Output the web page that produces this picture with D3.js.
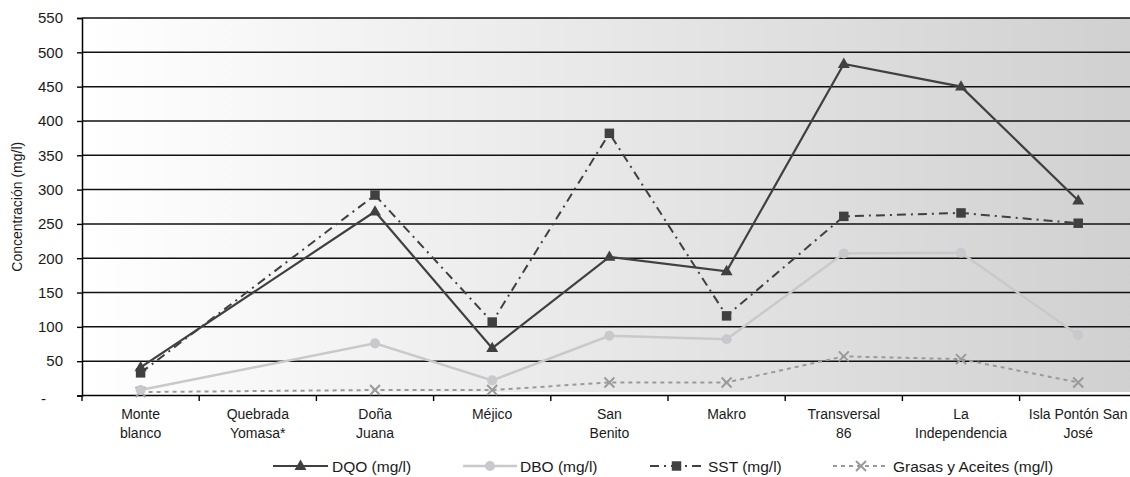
<!DOCTYPE html>
<html>
<head>
<meta charset="utf-8">
<script src="https://cdn.jsdelivr.net/npm/d3@7"></script>
<style>
  html, body { margin: 0; padding: 0; background: #ffffff; }
  svg { display: block; font-family: "Liberation Sans", Arial, sans-serif; }
</style>
</head>
<body>
<svg id="chart" width="1130" height="477"></svg>
<script>
// Sampling sites (two-line labels)
const categories = [
  ["Monte", "blanco"],
  ["Quebrada", "Yomasa*"],
  ["Doña", "Juana"],
  ["Méjico"],
  ["San", "Benito"],
  ["Makro"],
  ["Transversal", "86"],
  ["La", "Independencia"],
  ["Isla Pontón San", "José"]
];

// Concentrations in mg/l; Quebrada Yomasa* has no measurement
const dqo    = [41, null, 268, 69, 202, 181, 483, 450, 284];
const dbo    = [8, null, 76, 22, 87, 82, 207, 208, 88];
const sst    = [33, null, 292, 107, 382, 116, 261, 266, 251];
const grasas = [5, null, 8, 8, 19, 19, 57, 53, 19];

const yTicks = [0, 50, 100, 150, 200, 250, 300, 350, 400, 450, 500, 550];

const seriesNames = ["DQO (mg/l)", "DBO (mg/l)", "SST (mg/l)", "Grasas y Aceites (mg/l)"];

const svg = d3.select("#chart");
const plotLeft = 82, plotTop = 18, plotBottom = 395.5;
const step = 117.2;
const plotRight = plotLeft + categories.length * step;

const x = d3.scaleBand().domain(d3.range(categories.length)).range([plotLeft, plotRight]).padding(0);
const y = d3.scaleLinear().domain([0, 550]).range([plotBottom, plotTop]);

// Plot background: horizontal white-to-grey gradient
const defs = svg.append("defs");
const grad = defs.append("linearGradient")
  .attr("id", "bg").attr("gradientUnits", "userSpaceOnUse")
  .attr("x1", plotLeft).attr("x2", plotRight).attr("y1", 0).attr("y2", 0);
grad.append("stop").attr("offset", "0%").attr("stop-color", "#ffffff");
grad.append("stop").attr("offset", "100%").attr("stop-color", "#d0d0d0");

svg.append("rect")
  .attr("x", plotLeft).attr("y", plotTop)
  .attr("width", plotRight - plotLeft).attr("height", plotBottom - plotTop - 3.5)
  .attr("fill", "url(#bg)");

// Horizontal gridlines
svg.append("g").selectAll("line").data(yTicks.filter(d => d > 0)).join("line")
  .attr("x1", plotLeft).attr("x2", plotRight)
  .attr("y1", d => y(d)).attr("y2", d => y(d))
  .attr("stroke", "#111").attr("stroke-width", 1.5);

// Y axis
const yAxis = d3.axisLeft(y).tickValues(yTicks).tickSize(5).tickPadding(14)
  .tickFormat(d => d === 0 ? "-" : d3.format("d")(d));
const gy = svg.append("g").attr("transform", `translate(${plotLeft},0)`).call(yAxis);
gy.select(".domain").attr("stroke", "#000").attr("stroke-width", 1.5);
gy.selectAll(".tick line").attr("stroke", "#000").attr("stroke-width", 1.4);
gy.selectAll(".tick text").attr("font-size", 15).attr("fill", "#1a1a1a")
  .attr("font-family", "Liberation Sans, Arial, sans-serif");
gy.selectAll(".tick text").filter(d => d === 0).attr("dx", -17).attr("dy", "0.55em");

// X axis with ticks at category boundaries
svg.append("line")
  .attr("x1", plotLeft).attr("x2", plotRight).attr("y1", plotBottom).attr("y2", plotBottom)
  .attr("stroke", "#000").attr("stroke-width", 1.6);
svg.append("g").selectAll("line").data(d3.range(categories.length + 1)).join("line")
  .attr("x1", i => plotLeft + i * x.bandwidth()).attr("x2", i => plotLeft + i * x.bandwidth())
  .attr("y1", plotBottom).attr("y2", plotBottom + 5.5)
  .attr("stroke", "#000").attr("stroke-width", 1.4);

const xl = svg.append("g").attr("font-size", 14).attr("fill", "#1a1a1a").attr("text-anchor", "middle");
categories.forEach((lines, i) => {
  const t = xl.append("text").attr("x", x(i) + x.bandwidth() / 2).attr("y", 419);
  lines.forEach((ln, k) => t.append("tspan")
    .attr("x", x(i) + x.bandwidth() / 2).attr("dy", k === 0 ? 0 : 18.5).text(ln));
});

// Y axis title
svg.append("text")
  .attr("transform", `translate(22,${(plotTop + plotBottom) / 2}) rotate(-90)`)
  .attr("text-anchor", "middle").attr("font-size", 14).attr("fill", "#1a1a1a")
  .text("Concentración (mg/l)");

// Series styling
const styles = [
  { values: dqo, color: "#404040", width: 2.2, dash: null, marker: "triangle", mcolor: "#404040" },
  { values: dbo, color: "#c9c9cd", width: 2.4, dash: null, marker: "circle", mcolor: "#c9c9cd" },
  { values: sst, color: "#404040", width: 2, dash: "9,5,2,5", marker: "square", mcolor: "#404040" },
  { values: grasas, color: "#9a9a9a", width: 2, dash: "4,4", marker: "cross", mcolor: "#9a9a9a" }
];

const cx = i => x(i) + x.bandwidth() / 2;

function drawMarker(g, type, px, py, color) {
  if (type === "cross") {
    const s = 5;
    g.append("path")
      .attr("d", `M${px - s},${py - s}L${px + s},${py + s}M${px - s},${py + s}L${px + s},${py - s}`)
      .attr("stroke", color).attr("stroke-width", 2).attr("fill", "none");
    return;
  }
  const sym = type === "triangle" ? d3.symbolTriangle : type === "square" ? d3.symbolSquare : d3.symbolCircle;
  const size = type === "triangle" ? 62 : type === "square" ? 90 : 80;
  g.append("path")
    .attr("d", d3.symbol().type(sym).size(size)())
    .attr("transform", `translate(${px},${py + (type === "triangle" ? 0.5 : 0)})`)
    .attr("fill", color);
}

const line = d3.line().x(d => cx(d.i)).y(d => y(d.v));

// Draw back-to-front: grasas, dbo, sst, dqo
[3, 1, 2, 0].forEach(si => {
  const s = styles[si];
  const pts = s.values.map((v, i) => ({ i, v })).filter(d => d.v !== null);
  const g = svg.append("g");
  g.append("path").attr("d", line(pts))
    .attr("fill", "none").attr("stroke", s.color).attr("stroke-width", s.width)
    .attr("stroke-dasharray", s.dash);
  pts.forEach(d => drawMarker(g, s.marker, cx(d.i), y(d.v), s.mcolor));
});

// Legend
const legendY = 466;
const legendItems = [
  { x1: 273, x2: 328, tx: 332 },
  { x1: 463, x2: 517, tx: 520 },
  { x1: 650, x2: 703, tx: 708 },
  { x1: 833, x2: 889, tx: 893 }
];
const lg = svg.append("g");
legendItems.forEach((it, k) => {
  const s = styles[k];
  lg.append("line").attr("x1", it.x1).attr("x2", it.x2)
    .attr("y1", legendY).attr("y2", legendY)
    .attr("stroke", s.color).attr("stroke-width", s.width)
    .attr("stroke-dasharray", s.dash);
  drawMarker(lg, s.marker, (it.x1 + it.x2) / 2, legendY, s.mcolor);
  lg.append("text").attr("x", it.tx).attr("y", legendY).attr("dy", "0.36em")
    .attr("font-size", 15.5).attr("fill", "#1a1a1a").text(seriesNames[k]);
});
</script>
</body>
</html>
